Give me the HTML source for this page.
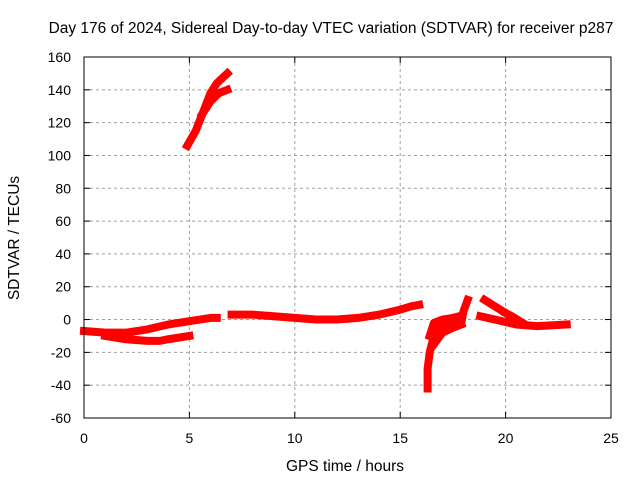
<!DOCTYPE html>
<html><head><meta charset="utf-8"><style>
body{margin:0;background:#fff}
svg text{font-family:"Liberation Sans",sans-serif;font-size:14px;fill:#000}
svg text.big{font-size:15.5px}
</style></head><body>
<svg id="chart" width="640" height="480">
<text class="big" x="331" y="33" text-anchor="middle">Day 176 of 2024, Sidereal Day-to-day VTEC variation (SDTVAR) for receiver p287</text>
<text class="big" x="345" y="471" text-anchor="middle">GPS time / hours</text>
<text class="big" transform="translate(19,238) rotate(-90)" text-anchor="middle">SDTVAR / TECUs</text>
<g id="grid"></g><g id="marks"></g>
<rect x="84" y="57" width="527" height="361" fill="none" stroke="#000" stroke-width="1"/>
</svg>
<script>
const xTicks=[0,5,10,15,20,25];
const yTicks=[-60,-40,-20,0,20,40,60,80,100,120,140,160];
const seriesA=[[0,-7],[1,-8],[2,-8],[3,-6],[4,-3],[5,-1],[6,1],[6.3,1]];
const seriesA2=[[1,-10],[2,-12],[3,-13],[3.6,-13],[4,-12],[5,-10]];
const seriesB=[[4.9,106],[5.3,115],[5.7,128],[6,138],[6.3,144],[6.8,150]];
const seriesB2=[[5.6,125],[6,133],[6.4,138],[6.8,140]];
const seriesC=[[7,3],[8,3],[9,2],[10,1],[11,0],[12,0],[13,1],[14,3],[15,6],[15.5,8],[15.9,9]];
const seriesD=[[16.3,-42],[16.3,-30],[16.4,-20],[16.6,-10],[16.9,-4],[17.3,-1],[17.8,0]];
const seriesD2=[[16.4,-10],[16.6,-2],[17,0],[17.5,1],[17.8,2]];
const seriesD3=[[16.6,-15],[17,-8],[17.5,-5],[17.9,-3]];
const seriesE=[[17.9,-2],[18.0,5],[18.2,12]];
const seriesF=[[18.8,2],[19.5,0],[20.5,-3],[21.5,-4],[22.9,-3]];
const seriesF2=[[19,12],[19.5,8],[20,4],[20.5,0]];
const seriesF3=[[20,4],[20.3,2],[20.8,-2]];
const allSeries=[seriesA,seriesA2,seriesB,seriesB2,seriesC,seriesD,seriesD2,seriesD3,seriesE,seriesF,seriesF2,seriesF3];
const NS="http://www.w3.org/2000/svg";
const X=v=>84+v/25*527, Y=v=>418-(v+60)/220*361;
const g=document.getElementById('grid'), m=document.getElementById('marks'), svg=document.getElementById('chart');
function mk(t,a,p){const e=document.createElementNS(NS,t);for(const k in a)e.setAttribute(k,a[k]);p.appendChild(e);return e;}
xTicks.forEach(v=>{
 const l=mk('line',{x1:X(v),x2:X(v),y1:57,y2:418,stroke:'#a0a0a0','stroke-dasharray':'3,3'},g);
 
 
 mk('line',{x1:X(v),x2:X(v),y1:418,y2:412,stroke:'#000'},g);
 mk('line',{x1:X(v),x2:X(v),y1:57,y2:63,stroke:'#000'},g);
 const t=mk('text',{x:X(v),y:443,'text-anchor':'middle'},svg);t.textContent=v;
 
 
});
yTicks.forEach(v=>{
 const l=mk('line',{x1:84,x2:611,y1:Y(v),y2:Y(v),stroke:'#a0a0a0','stroke-dasharray':'3,3'},g);
 
 
 mk('line',{x1:84,x2:90,y1:Y(v),y2:Y(v),stroke:'#000'},g);
 mk('line',{x1:605,x2:611,y1:Y(v),y2:Y(v),stroke:'#000'},g);
 const t=mk('text',{x:71,y:Y(v)+5,'text-anchor':'end'},svg);t.textContent=v;
 
 
});
allSeries.forEach(s=>{
 const p=mk('polyline',{points:s.map(d=>X(d[0])+','+Y(d[1])).join(' '),fill:'none',stroke:'#ff0000','stroke-width':8,'stroke-linejoin':'round','stroke-linecap':'square'},m);
 
 
});
</script>
</body></html>
